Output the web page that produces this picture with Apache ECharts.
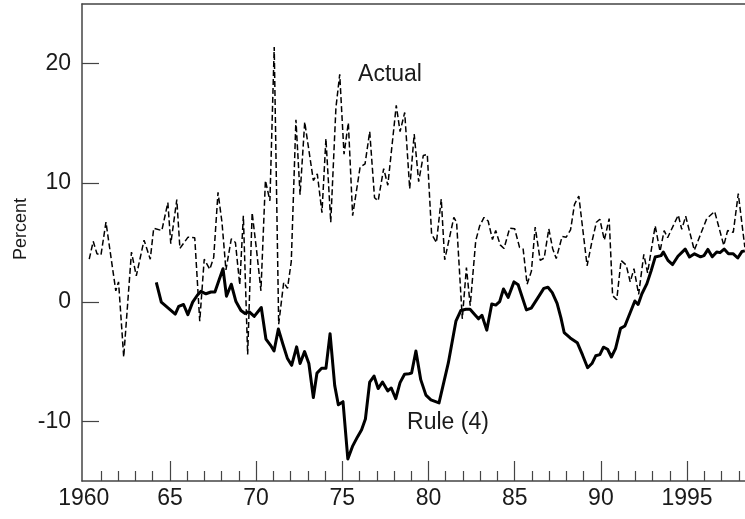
<!DOCTYPE html>
<html>
<head>
<meta charset="utf-8">
<script src="https://cdn.jsdelivr.net/npm/echarts@6/dist/echarts.min.js"></script>
<style>
html,body{margin:0;padding:0;background:#fff;}
#chart{width:745px;height:519px;}
</style>
</head>
<body>
<div id="chart"></div>
<script>
// ---- data ----
const actualYears = [1960.32,1960.55,1960.77,1961.00,1961.29,1961.86,1962.02,1962.32,1962.77,1963.05,1963.50,1963.86,1964.06,1964.53,1964.88,1965.05,1965.40,1965.58,1966.05,1966.44,1966.73,1966.99,1967.31,1967.54,1967.79,1968.02,1968.25,1968.56,1968.80,1969.05,1969.26,1969.51,1969.77,1970.03,1970.28,1970.54,1970.80,1971.05,1971.31,1971.60,1971.82,1972.04,1972.31,1972.55,1972.82,1973.32,1973.55,1973.82,1974.05,1974.33,1974.63,1974.85,1975.10,1975.35,1975.60,1976.03,1976.32,1976.59,1976.87,1977.08,1977.40,1977.64,1978.13,1978.35,1978.62,1978.91,1979.17,1979.43,1979.70,1979.93,1980.18,1980.46,1980.74,1980.94,1981.47,1981.63,1981.96,1982.20,1982.42,1982.74,1982.97,1983.22,1983.46,1983.71,1983.90,1984.16,1984.38,1984.71,1985.00,1985.28,1985.49,1985.72,1985.97,1986.19,1986.48,1986.71,1986.98,1987.20,1987.41,1987.75,1987.99,1988.24,1988.47,1988.72,1989.20,1989.47,1989.74,1989.94,1990.20,1990.48,1990.68,1990.92,1991.17,1991.47,1991.70,1991.92,1992.19,1992.49,1992.71,1993.15,1993.43,1993.67,1993.87,1994.49,1994.69,1994.92,1995.42,1996.14,1996.60,1997.13,1997.35,1997.68,1997.97,1998.35];
const actualValues = [3.6,5.1,4.05,3.95,6.7,0.95,1.7,-4.6,4.2,2.2,5.2,3.6,6.2,6.0,8.35,4.9,8.6,4.5,5.45,5.4,-1.6,3.6,2.75,3.75,9.2,6.7,2.7,5.3,5.0,1.45,7.25,-4.4,7.5,4.3,0.95,10.2,8.5,21.4,-1.85,1.65,1.15,3.4,15.3,9.0,15.1,10.2,10.75,7.5,13.7,6.7,16.3,19.1,12.4,15.05,7.25,11.3,11.6,14.3,8.75,8.5,11.2,9.8,16.5,14.3,15.9,9.5,14.1,10.1,12.3,12.4,5.7,5.0,8.65,3.55,7.1,6.7,-1.4,2.9,-0.3,5.15,6.4,7.1,6.8,5.25,6.0,4.8,4.5,6.2,6.15,4.6,4.45,1.5,2.6,6.3,3.5,3.7,6.15,4.5,3.65,5.5,5.45,6.05,8.2,8.9,3.05,5.0,6.7,6.95,5.2,7.0,0.55,0.2,3.5,3.1,1.7,2.8,0.65,4.0,2.45,6.4,4.25,6.0,5.4,7.3,6.1,7.2,4.35,7.0,7.6,4.75,6.0,5.85,9.1,4.6];

const ruleYears = [1964.21,1964.50,1965.31,1965.51,1965.79,1966.04,1966.32,1966.60,1966.80,1967.09,1967.38,1967.61,1967.86,1968.08,1968.28,1968.56,1968.83,1969.12,1969.36,1969.59,1969.89,1970.30,1970.57,1970.83,1971.04,1971.29,1971.56,1971.81,1972.06,1972.35,1972.55,1972.81,1973.06,1973.32,1973.53,1973.80,1974.05,1974.29,1974.56,1974.77,1975.04,1975.32,1975.59,1975.88,1976.12,1976.34,1976.59,1976.84,1977.08,1977.33,1977.64,1977.84,1978.10,1978.35,1978.61,1978.87,1979.02,1979.27,1979.55,1979.85,1980.14,1980.61,1981.15,1981.59,1981.88,1982.17,1982.41,1982.69,1982.90,1983.10,1983.38,1983.67,1983.90,1984.13,1984.35,1984.62,1984.96,1985.20,1985.68,1985.96,1986.36,1986.69,1986.93,1987.18,1987.46,1987.68,1987.87,1988.22,1988.63,1988.94,1989.23,1989.48,1989.70,1989.94,1990.15,1990.39,1990.61,1990.85,1991.14,1991.39,1991.68,1991.97,1992.16,1992.38,1992.67,1992.91,1993.15,1993.49,1993.62,1993.89,1994.16,1994.47,1994.89,1995.14,1995.43,1995.78,1995.98,1996.21,1996.46,1996.72,1996.91,1997.15,1997.40,1997.68,1997.94,1998.19,1998.35];
const ruleValues = [1.65,0,-1.0,-0.35,-0.2,-1.05,0,0.6,0.9,0.7,0.85,0.85,1.9,2.8,0.5,1.5,0.05,-0.7,-0.95,-0.8,-1.2,-0.45,-3.1,-3.6,-4.1,-2.25,-3.55,-4.7,-5.3,-3.75,-5.15,-4.15,-5.15,-8.0,-5.95,-5.55,-5.55,-2.65,-7.0,-8.6,-8.35,-13.15,-12.1,-11.3,-10.7,-9.8,-6.7,-6.2,-7.25,-6.7,-7.45,-7.2,-8.1,-6.75,-6.05,-6.0,-5.95,-4.1,-6.5,-7.8,-8.2,-8.45,-5.1,-1.6,-0.7,-0.6,-0.6,-1.05,-1.4,-1.1,-2.35,-0.15,-0.25,0.05,1.1,0.4,1.7,1.45,-0.65,-0.5,0.4,1.15,1.25,0.8,-0.1,-1.3,-2.55,-3.0,-3.4,-4.45,-5.5,-5.15,-4.5,-4.4,-3.78,-3.95,-4.6,-3.9,-2.2,-2.0,-0.95,0.1,-0.2,0.7,1.55,2.6,3.78,3.9,4.2,3.5,3.15,3.85,4.45,3.78,4.05,3.8,3.9,4.42,3.8,4.2,4.15,4.45,4.05,4.05,3.7,4.25,4.3];

const yTicks = [-10, 0, 10, 20];
const xLabelYears = [1960, 1965, 1970, 1975, 1980, 1985, 1990, 1995];
const xLabelTexts = ['1960', '65', '70', '75', '80', '85', '90', '1995'];
const xMajorTicks = [1965, 1970, 1975, 1980, 1985, 1990, 1995];
const xMinorTicks = [1961,1962,1963,1964,1966,1967,1968,1969,1971,1972,1973,1974,1976,1977,1978,1979,1981,1982,1983,1984,1986,1987,1988,1989,1991,1992,1993,1994,1996,1997,1998];
const yAxisTitle = 'Percent';
const actualName = 'Actual';
const ruleName = 'Rule (4)';

// ---- chart ----
const FONT = '"Liberation Sans", Arimo, Helvetica, Arial, sans-serif';
const TXT = '#1a1a1a';
const AX = '#444';
const XMIN = 1959.9, XMAX = 1998.36;

const zip = (a, b) => a.map((v, i) => [v, b[i]]);

const chart = echarts.init(document.getElementById('chart'), null, {renderer: 'canvas'});
chart.setOption({
  animation: false,
  backgroundColor: '#fff',
  grid: {left: 82, right: 0, top: 4, bottom: 38, containLabel: false},
  xAxis: [
    {
      type: 'value', min: XMIN, max: XMAX, position: 'bottom',
      axisLine: {show: true, onZero: false, lineStyle: {color: AX, width: 1.5}},
      axisTick: {show: true, inside: true, length: 20, customValues: xMajorTicks, lineStyle: {color: AX, width: 1.2}},
      axisLabel: {
        show: true, customValues: xLabelYears, margin: 6,
        fontFamily: FONT, fontSize: 23, color: TXT,
        formatter: v => xLabelTexts[xLabelYears.indexOf(Math.round(v))] || ''
      },
      splitLine: {show: false}
    },
    {
      type: 'value', min: XMIN, max: XMAX, position: 'bottom',
      axisLine: {show: false, onZero: false},
      axisTick: {show: true, inside: true, length: 10, customValues: xMinorTicks, lineStyle: {color: AX, width: 1.2}},
      axisLabel: {show: false},
      splitLine: {show: false}
    },
    {
      type: 'value', min: XMIN, max: XMAX, position: 'top',
      axisLine: {show: true, onZero: false, lineStyle: {color: AX, width: 1.5}},
      axisTick: {show: false}, axisLabel: {show: false}, splitLine: {show: false}
    }
  ],
  yAxis: {
    type: 'value', min: -15, max: 25, position: 'left',
    axisLine: {show: true, onZero: false, lineStyle: {color: AX, width: 1.5}},
    axisTick: {show: true, inside: true, length: 17, customValues: yTicks, lineStyle: {color: AX, width: 1.2}},
    axisLabel: {show: true, customValues: yTicks, margin: 11, fontFamily: FONT, fontSize: 23, color: TXT},
    splitLine: {show: false}
  },
  graphic: [
    {type: 'text', x: 21, y: 229, rotation: Math.PI / 2,
     style: {text: yAxisTitle, fontFamily: FONT, fontSize: 18, fill: TXT, align: 'center', verticalAlign: 'middle'}},
    {type: 'text', x: 390, y: 75,
     style: {text: actualName, fontFamily: FONT, fontSize: 23, fill: TXT, align: 'center', verticalAlign: 'middle'}},
    {type: 'text', x: 448, y: 423,
     style: {text: ruleName, fontFamily: FONT, fontSize: 23, fill: TXT, align: 'center', verticalAlign: 'middle'}}
  ],
  series: [
    {
      name: actualName, type: 'line', xAxisIndex: 0, yAxisIndex: 0,
      data: zip(actualYears, actualValues), showSymbol: false, symbol: 'none',
      lineStyle: {color: '#000', width: 1.5, type: [6, 3]}
    },
    {
      name: ruleName, type: 'line', xAxisIndex: 0, yAxisIndex: 0,
      data: zip(ruleYears, ruleValues), showSymbol: false, symbol: 'none',
      lineStyle: {color: '#000', width: 3, join: 'round'}
    }
  ]
});
</script>
</body>
</html>
